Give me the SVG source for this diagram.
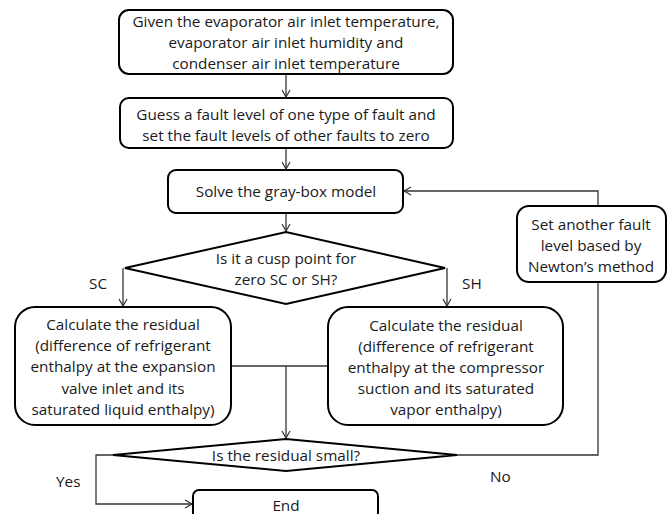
<svg xmlns="http://www.w3.org/2000/svg" width="668" height="514" viewBox="0 0 668 514">
<defs>
<style>
.n{fill:#fff;stroke:#000;stroke-width:2}
.t{font-family:"Open Sans","Liberation Sans",sans-serif;font-size:15.3px;fill:#1a1a1a;text-anchor:middle}
.l{font-family:"Open Sans","Liberation Sans",sans-serif;font-size:15.3px;fill:#1a1a1a}
.c{fill:none;stroke:#333;stroke-width:1.3}
</style>
<marker id="a" markerWidth="10" markerHeight="10" refX="8" refY="5" orient="auto" markerUnits="userSpaceOnUse">
<path d="M1,1 L8,5 L1,9" fill="none" stroke="#333" stroke-width="1.2"/>
</marker>
</defs>
<rect width="668" height="514" fill="#fff"/>
<g id="connectors">
<path class="c" d="M286,75 V97" marker-end="url(#a)"/>
<path class="c" d="M286,149 V169" marker-end="url(#a)"/>
<path class="c" d="M286,214 V231" marker-end="url(#a)"/>
<path class="c" d="M123,268 V306" marker-end="url(#a)"/>
<path class="c" d="M447,268 V306" marker-end="url(#a)"/>
<path class="c" d="M231,366 H328"/>
<path class="c" d="M286,366 V438" marker-end="url(#a)"/>
<path class="c" d="M113,455 H96 V504 H192" marker-end="url(#a)"/>
<path class="c" d="M457,455 H598 V260" marker-end="url(#a)"/>
<path class="c" d="M598,206 V191 H404" marker-end="url(#a)"/>
<text class="l" x="89" y="289">SC</text>
<text class="l" x="462" y="289">SH</text>
<text class="l" x="56" y="487">Yes</text>
<text class="l" x="490" y="482">No</text>
</g>
<g id="n1">
<rect class="n" x="119" y="10" width="334" height="64" rx="10"/>
<text class="t" x="286" y="27">Given the evaporator air inlet temperature,</text>
<text class="t" x="286" y="48">evaporator air inlet humidity and</text>
<text class="t" x="286" y="69">condenser air inlet temperature</text>
</g>
<g id="n2">
<rect class="n" x="120" y="98" width="333" height="50" rx="9"/>
<text class="t" x="286" y="120">Guess a fault level of one type of fault and</text>
<text class="t" x="286" y="141">set the fault levels of other faults to zero</text>
</g>
<g id="n3">
<rect class="n" x="168" y="170" width="235" height="43" rx="8"/>
<text class="t" x="286" y="197">Solve the gray-box model</text>
</g>
<g id="d1">
<polygon class="n" points="125,268 286,232 445,268 286,304"/>
<text class="t" x="286" y="264">Is it a cusp point for</text>
<text class="t" x="286" y="285">zero SC or SH?</text>
</g>
<g id="n4">
<rect class="n" x="15" y="307" width="216" height="118" rx="20"/>
<text class="t" x="123" y="330">Calculate the residual</text>
<text class="t" x="123" y="351">(difference of refrigerant</text>
<text class="t" x="123" y="372">enthalpy at the expansion</text>
<text class="t" x="123" y="394">valve inlet and its</text>
<text class="t" x="123" y="415">saturated liquid enthalpy)</text>
</g>
<g id="n5">
<rect class="n" x="328" y="307" width="235" height="118" rx="20"/>
<text class="t" x="446" y="331">Calculate the residual</text>
<text class="t" x="446" y="352">(difference of refrigerant</text>
<text class="t" x="446" y="373">enthalpy at the compressor</text>
<text class="t" x="446" y="394">suction and its saturated</text>
<text class="t" x="446" y="415">vapor enthalpy)</text>
</g>
<g id="n6">
<rect class="n" x="517" y="206" width="149" height="76" rx="12"/>
<text class="t" x="591" y="230">Set another fault</text>
<text class="t" x="591" y="251">level based by</text>
<text class="t" x="591" y="272">Newton’s method</text>
</g>
<g id="d2">
<polygon class="n" points="113,455 286,439 457,455 286,471"/>
<text class="t" x="286" y="461">Is the residual small?</text>
</g>
<g id="n7">
<rect class="n" x="193" y="490" width="185" height="40" rx="6"/>
<text class="t" x="286" y="511">End</text>
</g>
</svg>
